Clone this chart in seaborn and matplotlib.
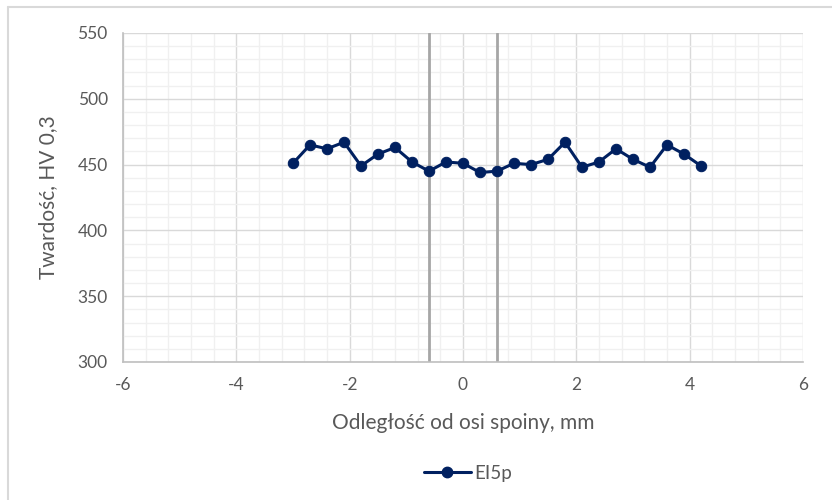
import numpy as np
import pandas as pd
import matplotlib
matplotlib.use("Agg")
import matplotlib.pyplot as plt
from matplotlib.ticker import MultipleLocator
from matplotlib.lines import Line2D
import seaborn as sns

# Hardness profile across the weld (HV 0.3)
distance_mm = [-3.0, -2.7, -2.4, -2.1, -1.8, -1.5, -1.2, -0.9, -0.6, -0.3, 0.0, 0.3,
               0.6, 0.9, 1.2, 1.5, 1.8, 2.1, 2.4, 2.7, 3.0, 3.3, 3.6, 3.9, 4.2]
hardness_hv = [451, 465, 462, 467, 449, 458, 463, 452, 445, 452, 451, 444,
               445, 451, 450, 454, 467, 448, 452, 462, 454, 448, 465, 458, 449]
series_name = "EI5p"
fusion_lines = [-0.6, 0.6]
x_ticks = [-6, -4, -2, 0, 2, 4, 6]
y_ticks = [300, 350, 400, 450, 500, 550]

x_label = "Odległość od osi spoiny, mm"
y_label = "Twardość, HV 0,3"

df = pd.DataFrame({"x": distance_mm, "y": hardness_hv, "series": series_name})

sns.set_theme(style="white")
plt.rcParams["font.family"] = ["Lato", "DejaVu Sans"]

navy = "#002060"
text_col = "#595959"

fig = plt.figure(figsize=(8.32, 5.0), dpi=100)
ax = fig.add_axes([123 / 832, 1 - 362 / 500, (803 - 123) / 832, (362 - 33) / 500])

ax.set_xlim(-6, 6)
ax.set_ylim(300, 550)
ax.xaxis.set_minor_locator(MultipleLocator(0.4))
ax.yaxis.set_minor_locator(MultipleLocator(10))
ax.set_xticks(x_ticks)
ax.set_xticklabels([str(v) for v in x_ticks])
ax.set_yticks(y_ticks)
ax.set_yticklabels([str(v) for v in y_ticks])

ax.grid(which="minor", color="#f0f0f0", linewidth=1.0)
ax.grid(which="major", color="#d9d9d9", linewidth=1.0)
ax.set_axisbelow(True)

for xv in fusion_lines:
    ax.axvline(xv, color="#a6a6a6", linewidth=2.0, zorder=1.5)

sns.lineplot(data=df, x="x", y="y", ax=ax, color=navy, linewidth=2.2,
             marker="o", markersize=7.5, markeredgecolor=navy, markerfacecolor=navy,
             legend=False, zorder=3)

for side in ["top", "right"]:
    ax.spines[side].set_visible(False)
for side in ["left", "bottom"]:
    ax.spines[side].set_color("#bfbfbf")
    ax.spines[side].set_linewidth(1.2)

ax.tick_params(axis="both", which="major", direction="out", length=5, width=1.0,
               color="#bfbfbf", labelcolor=text_col, labelsize=12.5, pad=6)
ax.tick_params(axis="both", which="minor", length=0)

ax.set_xlabel(x_label, fontsize=15, color=text_col, labelpad=14)
ax.set_ylabel(y_label, fontsize=15, color=text_col, labelpad=14)

handle = Line2D([], [], color=navy, linewidth=2.2, marker="o", markersize=7.5)
fig.legend([handle], [series_name], loc="center", bbox_to_anchor=(468 / 832, 1 - 473 / 500),
           frameon=False, fontsize=13.5, handlelength=2.5, handletextpad=0.2,
           labelcolor=text_col)

# Chart area border (left and top edges)
fig.add_artist(Line2D([8 / 832, 8 / 832], [0, 1 - 7 / 500], transform=fig.transFigure,
                      color="#d9d9d9", linewidth=1.5))
fig.add_artist(Line2D([8 / 832, 1], [1 - 7 / 500, 1 - 7 / 500], transform=fig.transFigure,
                      color="#d9d9d9", linewidth=1.5))

fig.savefig("out.png", dpi=100, facecolor="white")
